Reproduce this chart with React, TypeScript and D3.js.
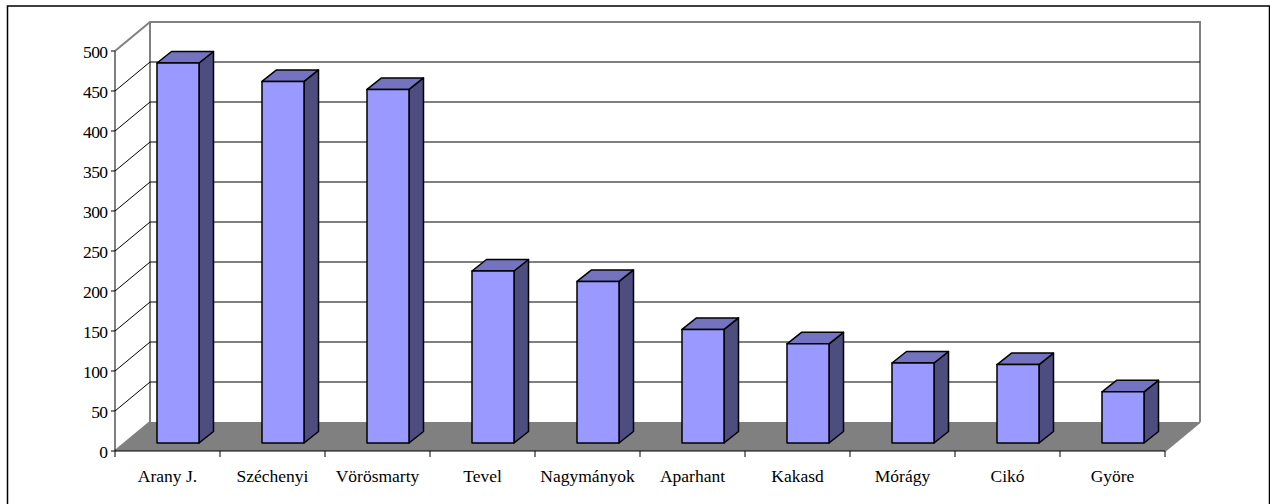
import * as d3 from 'd3';

const categories = ['Arany J.', 'Széchenyi', 'Vörösmarty', 'Tevel', 'Nagymányok', 'Aparhant', 'Kakasd', 'Mórágy', 'Cikó', 'Györe'];
const values = [475, 452, 442, 215, 202, 142, 124, 100, 98, 64];
const yTicks = [0, 50, 100, 150, 200, 250, 300, 350, 400, 450, 500];

const WIDTH = 1270;
const HEIGHT = 504;
const FONT = '"Liberation Serif", "Times New Roman", serif';

// 3D projection of the plot box
const DEPTH_X = 35;
const DEPTH_Y = 29;
const BAR_OFFSET_X = 10.5;
const BAR_OFFSET_Y = 8;
const BAR_DEPTH_X = 14.5;
const BAR_DEPTH_Y = 11.5;

const x = d3.scaleBand<string>().domain(categories).range([115, 1165]).paddingInner(0.6).paddingOuter(0.3);
const y = d3.scaleLinear().domain([0, 500]).range([451, 51]);

const pts = (p: [number, number][]) => p.map((d) => d.join(',')).join(' ');

export default function App() {
  const left = x.range()[0];
  const right = x.range()[1];
  const base = y(0);
  const xTicks = [...categories.map((c) => (x(c) as number) - x.step() * 0.3), right];

  return (
    <svg width={WIDTH} height={HEIGHT} style={{ position: 'absolute', left: 0, top: 0, background: '#fff' }}>
      {/* outer frame, runs off the bottom of the page */}
      <path d={`M7.5,${HEIGHT} V6 H1269.5 V${HEIGHT}`} fill="none" stroke="#000" strokeWidth={1.5} />

      {/* floor */}
      <polygon
        points={pts([[left, base], [left + DEPTH_X, base - DEPTH_Y], [right + DEPTH_X, base - DEPTH_Y], [right, base]])}
        fill="#808080"
      />

      {/* walls */}
      <path
        d={`M${left},${y(500)} L${left + DEPTH_X},${y(500) - DEPTH_Y} H${right + DEPTH_X} V${base - DEPTH_Y} M${left + DEPTH_X},${y(500) - DEPTH_Y} V${base - DEPTH_Y} M${right},${base} L${right + DEPTH_X},${base - DEPTH_Y} M${left},${base} L${left + DEPTH_X},${base - DEPTH_Y}`}
        fill="none"
        stroke="#808080"
        strokeWidth={2}
      />

      {/* gridlines */}
      {yTicks.filter((t) => t > 0 && t < 500).map((t) => (
        <path
          key={t}
          d={`M${left},${y(t)} L${left + DEPTH_X},${y(t) - DEPTH_Y} H${right + DEPTH_X}`}
          fill="none"
          stroke="#000"
          strokeWidth={1}
        />
      ))}

      {/* axes */}
      <path d={`M${left},${y(500)} V${base} H${right}`} fill="none" stroke="#000" strokeWidth={1} />
      {yTicks.map((t) => (
        <g key={t}>
          <line x1={left - 4} x2={left} y1={y(t)} y2={y(t)} stroke="#000" />
          <text
            x={left - 7.5}
            y={y(t) + 7}
            textAnchor="end"
            fontFamily={FONT}
            fontSize={17.5}
            letterSpacing={-0.6}
            fill="#000"
          >
            {t}
          </text>
        </g>
      ))}
      {xTicks.map((t, i) => (
        <line key={i} x1={t} x2={t} y1={base} y2={base + 6} stroke="#000" />
      ))}

      {/* bars */}
      {categories.map((c, i) => {
        const w = x.bandwidth();
        const x0 = (x(c) as number) + BAR_OFFSET_X;
        const x1 = x0 + w;
        const yb = base - BAR_OFFSET_Y;
        const yt = y(values[i]) - BAR_OFFSET_Y;
        return (
          <g key={c} stroke="#000" strokeWidth={1.5} strokeLinejoin="round">
            <polygon
              points={pts([[x1, yt], [x1 + BAR_DEPTH_X, yt - BAR_DEPTH_Y], [x1 + BAR_DEPTH_X, yb - BAR_DEPTH_Y], [x1, yb]])}
              fill="#4D4D80"
            />
            <polygon
              points={pts([[x0, yt], [x0 + BAR_DEPTH_X, yt - BAR_DEPTH_Y], [x1 + BAR_DEPTH_X, yt - BAR_DEPTH_Y], [x1, yt]])}
              fill="#7373BF"
            />
            <rect x={x0} y={yt} width={w} height={yb - yt} fill="#9999FF" />
          </g>
        );
      })}

      {/* category labels */}
      {categories.map((c) => (
        <text
          key={c}
          x={(x(c) as number) + x.bandwidth() / 2}
          y={482}
          textAnchor="middle"
          fontFamily={FONT}
          fontSize={17.5}
          fill="#000"
        >
          {c}
        </text>
      ))}
    </svg>
  );
}
